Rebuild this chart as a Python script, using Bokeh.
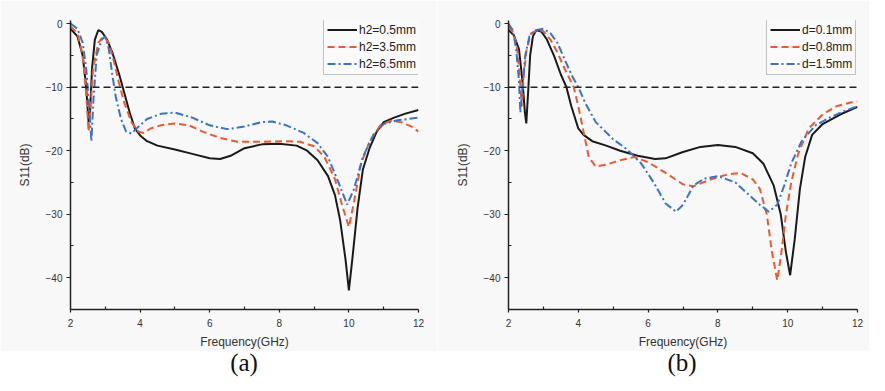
from bokeh.plotting import figure
from bokeh.layouts import row, column
from bokeh.models import Div, Legend, LegendItem, Span, FixedTicker, Range1d
from bokeh.embed import file_html
from bokeh.resources import INLINE

# ---------------- data (a) ----------------
a_labels = ["h2=0.5mm", "h2=3.5mm", "h2=6.5mm"]
a1_f = [2.0, 2.2, 2.35, 2.45, 2.52, 2.56, 2.62, 2.7, 2.8, 2.9, 3.05, 3.2, 3.4, 3.55, 3.7, 3.85, 4.0, 4.2, 4.5, 5.0,
        5.5, 6.0, 6.3, 6.6, 7.0, 7.5, 8.0, 8.5, 8.8, 9.1, 9.4, 9.6, 9.75, 9.9, 10.0, 10.1, 10.25, 10.4, 10.6, 10.8,
        11.0, 11.3, 11.6, 12.0]
a1_s = [-0.8, -2.0, -5, -10, -15.5, -14, -7, -2.5, -1.0, -1.3, -2.5, -4.5, -8, -11, -14, -16.5, -17.6, -18.5, -19.2,
        -19.8, -20.5, -21.2, -21.3, -20.8, -19.6, -19.0, -18.9, -19.2, -20, -21.5, -24, -27, -31, -37, -42, -37, -29,
        -23, -19.5, -17, -15.5, -14.8, -14.2, -13.6]
a2_f = [2.0, 2.2, 2.35, 2.45, 2.52, 2.58, 2.65, 2.8, 2.95, 3.1, 3.25, 3.4, 3.55, 3.75, 3.95, 4.1, 4.3, 4.6, 5.0, 5.4,
        5.8, 6.3, 6.8, 7.5, 8.2, 8.6, 9.0, 9.3, 9.6, 9.8, 10.0, 10.15, 10.35, 10.6, 10.9, 11.2, 11.5, 11.8, 12.0]
a2_s = [-0.5, -1.5, -5, -11, -17, -13, -7, -3, -2, -3, -6, -9.5, -12.5, -15.5, -17, -17.2, -16.5, -16, -15.7, -16,
        -17, -18, -18.6, -18.6, -18.5, -18.6, -19.3, -21, -24.5, -28.5, -32, -28, -22, -18.5, -16, -15.3, -15.5,
        -16.2, -17]
a3_f = [2.0, 2.2, 2.35, 2.45, 2.55, 2.6, 2.66, 2.75, 2.9, 3.0, 3.1, 3.2, 3.3, 3.45, 3.6, 3.75, 3.9, 4.2, 4.6, 5.0,
        5.5, 6.0, 6.5, 7.0, 7.5, 7.8, 8.2, 8.7, 9.1, 9.4, 9.7, 9.95, 10.15, 10.4, 10.7, 11.0, 11.4, 12.0]
a3_s = [0, -0.8, -3, -7, -14, -18.5, -12, -5, -2.5, -2, -4, -8, -11.5, -15, -17, -17.3, -16.5, -15, -14.2, -14,
        -14.8, -16, -16.6, -16.2, -15.5, -15.4, -16, -17.2, -18.8, -21, -25, -28.5, -26, -21, -17.5, -15.8, -15.2,
        -14.8]

# ---------------- data (b) ----------------
b_labels = ["d=0.1mm", "d=0.8mm", "d=1.5mm"]
b1_f = [2.0, 2.15, 2.3, 2.4, 2.47, 2.51, 2.56, 2.62, 2.7, 2.8, 2.95, 3.1, 3.3, 3.5, 3.66, 3.8, 4.0, 4.15, 4.4, 4.8,
        5.2, 5.7, 6.2, 6.5, 7.0, 7.5, 8.0, 8.5, 9.0, 9.3, 9.6, 9.8, 9.95, 10.07, 10.2, 10.35, 10.5, 10.7, 11.0, 11.5,
        12.0]
b1_s = [-1, -1.8, -4, -9, -14, -15.7, -11, -5, -2, -1, -1.3, -2.5, -5, -8, -10, -13, -16.5, -17.5, -18.5, -19.2,
        -20, -20.8, -21.3, -21.2, -20.2, -19.4, -19.1, -19.4, -20.4, -22, -25.5, -30, -36, -39.6, -34, -26, -21,
        -17.5, -15.8, -14.3, -13.1]
b2_f = [2.0, 2.15, 2.25, 2.32, 2.38, 2.44, 2.52, 2.65, 2.85, 3.0, 3.2, 3.4, 3.6, 3.87, 4.0, 4.15, 4.3, 4.5, 4.8, 5.2,
        5.6, 6.0, 6.5, 7.0, 7.3, 7.8, 8.3, 8.65, 9.0, 9.2, 9.4, 9.55, 9.7, 9.82, 9.95, 10.1, 10.3, 10.6, 11.0, 11.4,
        11.8, 12.0]
b2_s = [-0.5, -1.5, -4, -8, -13, -8, -4, -1.5, -1, -1.2, -2.5, -4.5, -7, -10, -13, -17, -21, -22.5, -22.2, -21.5,
        -21, -21.8, -23.5, -25.3, -25.6, -24.5, -23.7, -23.5, -24.5, -26, -30, -36, -40.4, -36, -30, -25, -20.5,
        -16.5, -14.3, -13, -12.4, -12.3]
b3_f = [2.0, 2.12, 2.22, 2.3, 2.34, 2.4, 2.48, 2.6, 2.8, 3.0, 3.2, 3.4, 3.6, 3.8, 4.0, 4.2, 4.5, 5.0, 5.4, 5.8, 6.16,
        6.5, 6.8, 7.0, 7.3, 7.6, 8.0, 8.5, 8.9, 9.2, 9.46, 9.7, 9.9, 10.1, 10.4, 10.8, 11.2, 11.6, 12.0]
b3_s = [0, -1, -4, -9, -14, -10, -5, -2, -1, -0.8, -1.5, -3, -5.5, -8, -10, -12.5, -15.5, -18.2, -19.8, -22, -25,
        -28.3, -29.6, -28.5, -25.5, -24.4, -24, -25, -27, -28.5, -29.6, -28.5, -25.5, -22, -18.5, -16, -14.8, -13.8,
        -13]

x_major = [2, 4, 6, 8, 10, 12]
x_minor = [3, 5, 7, 9, 11]
y_major = [-40, -30, -20, -10, 0]
y_minor = [-45, -35, -25, -15, -5]
threshold = -10

BG = "#f8f8f8"
COLORS = ["#1a1a1a", "#ee5a2f", "#3b73c6"]
DASHES = ["solid", "7 4", "8 3 2 3"]
FONT = "Liberation Sans"


def panel(series, labels, width, bl, br, legend_xy):
    p = figure(width=width, height=351, x_range=Range1d(2, 12), y_range=Range1d(-45, 0.5),
               output_backend="svg", toolbar_location=None,
               background_fill_color=BG, border_fill_color=BG,
               min_border_left=bl, min_border_right=br, min_border_top=20, min_border_bottom=40)
    p.outline_line_color = None
    p.grid.visible = False
    p.xaxis.ticker = FixedTicker(ticks=x_major, minor_ticks=x_minor)
    p.yaxis.ticker = FixedTicker(ticks=y_major, minor_ticks=y_minor)
    for ax in (p.xaxis, p.yaxis):
        ax.axis_line_color = "#222222"
        ax.axis_line_width = 1.5
        ax.major_tick_line_color = "#222222"
        ax.minor_tick_line_color = "#222222"
        ax.major_tick_line_width = 1.2
        ax.minor_tick_line_width = 1.2
        ax.major_label_text_font = FONT
        ax.major_label_text_font_size = "10px"
        ax.major_label_text_color = "#333333"
        ax.axis_label_text_font = FONT
        ax.axis_label_text_font_size = "12px"
        ax.axis_label_text_font_style = "normal"
        ax.axis_label_text_color = "#333333"
    p.xaxis.major_tick_out = 3
    p.xaxis.major_tick_in = 0
    p.xaxis.minor_tick_out = 0
    p.xaxis.minor_tick_in = 3
    p.yaxis.major_tick_out = 4
    p.yaxis.major_tick_in = 0
    p.yaxis.minor_tick_out = 0
    p.yaxis.minor_tick_in = 3
    p.xaxis.major_label_standoff = 6
    p.yaxis.major_label_standoff = 4
    p.xaxis.axis_label = "Frequency(GHz)"
    p.yaxis.axis_label = "S11(dB)"
    p.xaxis.axis_label_standoff = 5
    p.yaxis.axis_label_standoff = 11

    p.add_layout(Span(location=threshold, dimension="width", line_color="#222222",
                      line_dash="7 4", line_width=1.5))

    items = []
    for (f, s), lab, col, dash in zip(series, labels, COLORS, DASHES):
        r = p.line(f, s, line_color=col, line_width=2, line_dash=dash)
        items.append(LegendItem(label=lab, renderers=[r]))
    leg = Legend(items=items, location=legend_xy)
    leg.label_text_font = FONT
    leg.label_text_font_size = "12px"
    leg.label_text_color = "#222222"
    leg.glyph_width = 30
    leg.glyph_height = 15
    leg.label_height = 15
    leg.spacing = 2
    leg.padding = 3
    leg.margin = 0
    leg.label_standoff = 2
    leg.border_line_color = "#888888"
    leg.border_line_width = 1
    leg.background_fill_color = "#fafafa"
    leg.background_fill_alpha = 1
    p.add_layout(leg)
    return p


pa = panel([(a1_f, a1_s), (a2_f, a2_s), (a3_f, a3_s)], a_labels, 437, 70, 19, (253, 234))
pb = panel([(b1_f, b1_s), (b2_f, b2_s), (b3_f, b3_s)], b_labels, 432, 71, 12, (258, 234))

cap_style = {"font-family": "Liberation Serif", "font-size": "25px", "line-height": "24px",
             "text-align": "center", "color": "#111111"}
ca = Div(text='<div style="padding-left:51px">(a)</div>', width=437, height=24, margin=0, styles=cap_style)
cb = Div(text='<div style="padding-left:58px">(b)</div>', width=432, height=24, margin=0, styles=cap_style)

layout = row(column(pa, ca, spacing=0), column(pb, cb, spacing=0), spacing=0)

open("out.html", "w").write(file_html(layout, INLINE))
